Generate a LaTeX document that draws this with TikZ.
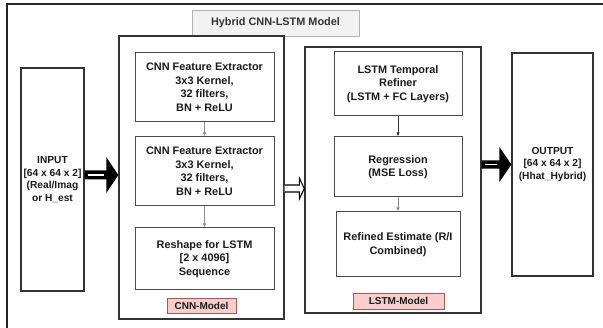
\documentclass[tikz,border=0pt]{standalone}
\usepackage{fontspec}
\setmainfont{Liberation Sans}
\usetikzlibrary{arrows.meta,calc}
\definecolor{lblfill}{HTML}{F8CECC}
\definecolor{lbldraw}{HTML}{B85450}
\definecolor{titlefill}{HTML}{F2F2F2}
\definecolor{titledraw}{HTML}{B3B3B3}
\definecolor{ink}{HTML}{1A1A1A}
\begin{document}
\begin{tikzpicture}[x=1pt,y=-1pt,
  txt/.style={font=\bfseries\fontsize{10.9}{13.5}\selectfont, text=ink, align=center, inner sep=0pt},
  group/.style={draw=black!80, line width=1.4pt, inner sep=0pt},
  stepbox/.style={txt, draw=black!70, line width=1pt},
  iobox/.style={draw=black!80, line width=1.2pt, inner sep=0pt, align=center, text=ink,
     font=\bfseries\fontsize{10.2}{12.5}\selectfont},
  lbl/.style={draw=lbldraw, fill=lblfill, line width=0.8pt, inner sep=0pt, text=ink,
     font=\bfseries\fontsize{10}{12}\selectfont},
  thin/.style={draw=black!45, line width=0.8pt, -{Latex[length=4pt,width=3.5pt]}},
  thindark/.style={draw=black!80, line width=0.8pt, -{Latex[length=4pt,width=3.5pt]}}
]
\useasboundingbox (0,0) rectangle (603,328);
\begin{scope}
  \clip (0,0) rectangle (603,328);
  \draw[line width=2pt, black!85] (7,4) rectangle (620,340);
\end{scope}

% title
\node[txt, draw=titledraw, fill=titlefill, line width=0.8pt, text=black!80,
      minimum width=167pt, minimum height=26pt] (title) at (275.5,23) {Hybrid CNN-LSTM Model};

% group boxes
\node[group, minimum width=165pt, minimum height=283pt] (cnnouter) at (201.5,177.5) {};
\node[group, minimum width=176pt, minimum height=266pt] (lstmouter) at (393,180) {};

% CNN steps
\node[stepbox, minimum width=139pt, minimum height=69pt] (c1) at (204.5,87.5)
  {CNN Feature Extractor\\3x3 Kernel,\\32 filters,\\BN + ReLU};
\node[stepbox, minimum width=139pt, minimum height=69pt] (c2) at (204.5,171.5)
  {CNN Feature Extractor\\3x3 Kernel,\\32 filters,\\BN + ReLU};
\node[stepbox, minimum width=139pt, minimum height=62pt] (c3) at (204.5,259)
  {Reshape for LSTM\\{[}2 x 4096{]}\\Sequence};
\node[lbl, minimum width=69pt, minimum height=15pt] (cnnlbl) at (201.5,305.5) {CNN-Model};

% LSTM steps
\node[stepbox, minimum width=128pt, minimum height=64pt] (l1) at (398,84)
  {LSTM Temporal\\Refiner\\(LSTM + FC Layers)};
\node[stepbox, minimum width=128pt, minimum height=60pt] (l2) at (398,167)
  {Regression\\(MSE Loss)};
\node[stepbox, minimum width=124pt, minimum height=65pt] (l3) at (398,244.5)
  {Refined Estimate (R/I\\Combined)};
\node[lbl, minimum width=91pt, minimum height=16pt] (lstmlbl) at (398.5,301) {LSTM-Model};

% input / output
\node[iobox, minimum width=63pt, minimum height=223pt] (input) at (52.5,179.5)
  {INPUT\\{[}64 x 64 x 2{]}\\(Real/Imag\\or H\_est};
\node[iobox, minimum width=81pt, minimum height=223pt] (output) at (552.5,164.5)
  {OUTPUT\\{[}64 x 64 x 2{]}\\(Hhat\_Hybrid)};

% small connectors
\draw[thin] (c1) -- (c2);
\draw[thin] (c2) -- (c3);
\draw[thindark] (l1) -- (l2);
\draw[thin] (l2) -- (l3);

% thick input arrow
\coordinate (ia) at ([yshift=4.5pt]input.east);
\coordinate (ib) at (ia -| cnnouter.west);
\fill[black] ($(ia)+(0,-4.5)$) -- ($(ib)+(-12,-4.5)$) -- ($(ib)+(-12,-18)$) -- (ib)
   -- ($(ib)+(-12,18)$) -- ($(ib)+(-12,4.5)$) -- ($(ia)+(0,4.5)$) -- cycle;
\draw[white, line width=1.6pt] ($(ia)+(3,0)$) -- ($(ib)+(-14,0)$);

% thick output arrow
\coordinate (oa) at (lstmouter.east |- output.west);
\coordinate (ob) at (output.west);
\fill[black] ($(oa)+(0,-4.2)$) -- ($(ob)+(-12,-4.2)$) -- ($(ob)+(-12,-17.5)$) -- (ob)
   -- ($(ob)+(-12,17.5)$) -- ($(ob)+(-12,4.2)$) -- ($(oa)+(0,4.2)$) -- cycle;
\draw[white, line width=1.6pt] ($(oa)+(3,0)$) -- ($(ob)+(-14,0)$);

% hollow middle arrow
\coordinate (ma) at ([yshift=-11pt]cnnouter.east);
\coordinate (mb) at (ma -| lstmouter.west);
\draw[black, fill=white, line width=1.1pt, line join=miter]
   ($(ma)+(0,-3.5)$) -- ($(mb)+(-5,-3.5)$) -- ($(mb)+(-5,-10.5)$) -- ($(mb)+(0,0)$)
   -- ($(mb)+(-5,10.5)$) -- ($(mb)+(-5,3.5)$) -- ($(ma)+(0,3.5)$);
\end{tikzpicture}
\end{document}
